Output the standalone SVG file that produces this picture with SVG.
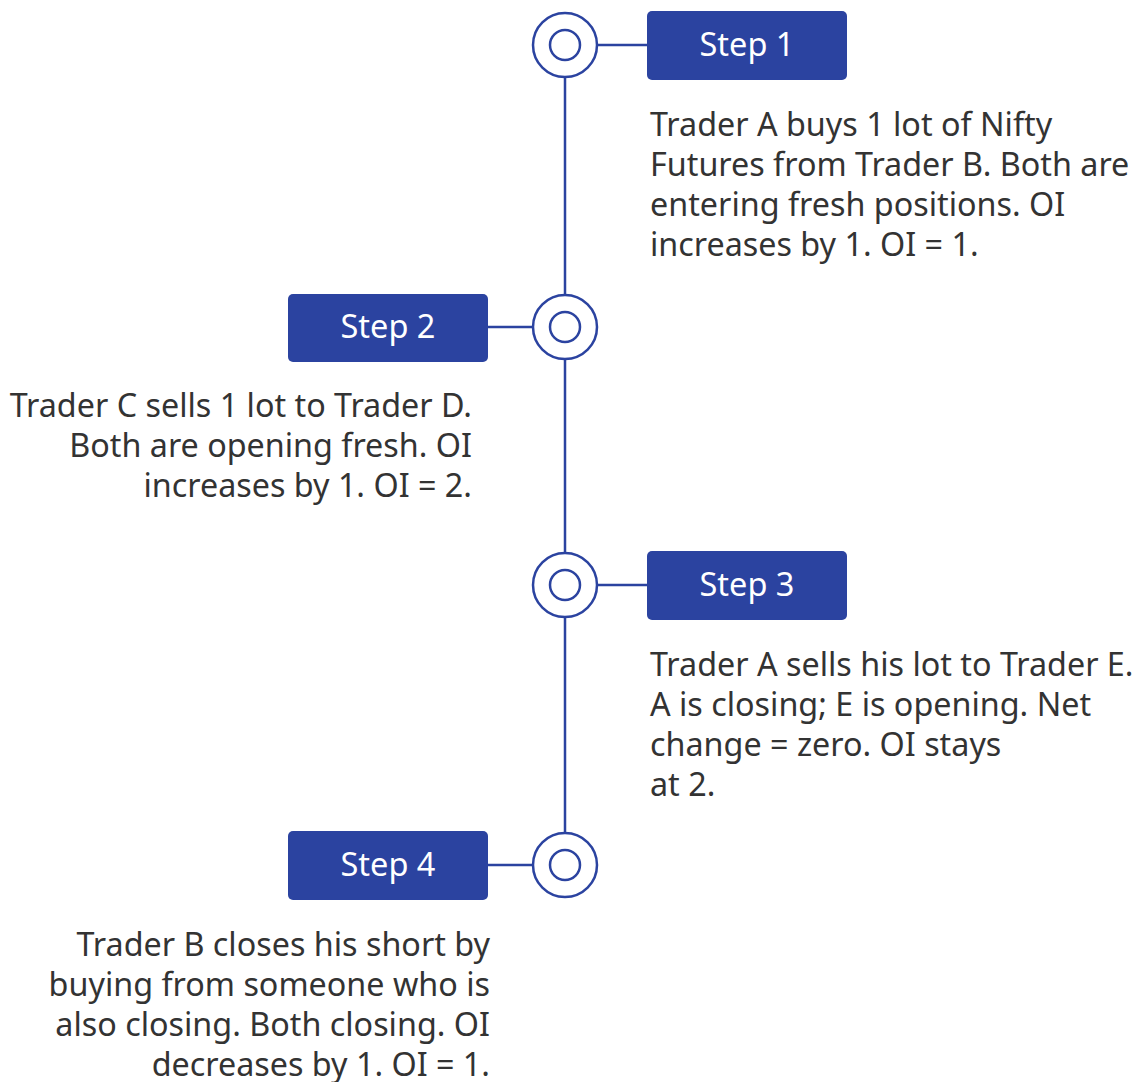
<svg xmlns="http://www.w3.org/2000/svg" width="1145" height="1082" viewBox="0 0 1145 1082">
<style>
.bg{fill:#ffffff}
.ln{stroke:#2B43A0;stroke-width:2.5;fill:none}
.ring{stroke:#2B43A0;stroke-width:2.5;fill:#ffffff}
.box{fill:#2B43A0}
.lbl{font-family:"Noto Sans","Liberation Sans",sans-serif;font-size:32.5px;fill:#ffffff;text-anchor:middle}
.txt{font-family:"Noto Sans","Liberation Sans",sans-serif;font-size:32.3px;fill:#333333}
.r{text-anchor:end}
</style>
<rect class="bg" x="0" y="0" width="1145" height="1082"/>
<g id="connectors">
<line class="ln" x1="565" y1="77" x2="565" y2="833"/>
<line class="ln" x1="597" y1="45" x2="647" y2="45"/>
<line class="ln" x1="488" y1="327" x2="533" y2="327"/>
<line class="ln" x1="597" y1="585" x2="647" y2="585"/>
<line class="ln" x1="488" y1="865" x2="533" y2="865"/>
</g>
<g id="node1">
<circle class="ring" cx="565" cy="45" r="32"/>
<circle class="ring" cx="565" cy="45" r="15"/>
<rect class="box" x="647" y="11" width="200" height="69" rx="5"/>
<text class="lbl" x="747" y="56">Step 1</text>
<text class="txt" x="650"><tspan x="650" y="136">Trader A buys 1 lot of Nifty</tspan><tspan x="650" y="176">Futures from Trader B. Both are</tspan><tspan x="650" y="216">entering fresh positions. OI</tspan><tspan x="650" y="256">increases by 1. OI = 1.</tspan></text>
</g>
<g id="node2">
<circle class="ring" cx="565" cy="327" r="32"/>
<circle class="ring" cx="565" cy="327" r="15"/>
<rect class="box" x="288" y="294" width="200" height="68" rx="5"/>
<text class="lbl" x="388" y="338">Step 2</text>
<text class="txt r"><tspan x="472" y="417">Trader C sells 1 lot to Trader D.</tspan><tspan x="472" y="457">Both are opening fresh. OI</tspan><tspan x="472" y="497">increases by 1. OI = 2.</tspan></text>
</g>
<g id="node3">
<circle class="ring" cx="565" cy="585" r="32"/>
<circle class="ring" cx="565" cy="585" r="15"/>
<rect class="box" x="647" y="551" width="200" height="69" rx="5"/>
<text class="lbl" x="747" y="596">Step 3</text>
<text class="txt"><tspan x="650" y="676">Trader A sells his lot to Trader E.</tspan><tspan x="650" y="716">A is closing; E is opening. Net</tspan><tspan x="650" y="756">change = zero. OI stays</tspan><tspan x="650" y="796">at 2.</tspan></text>
</g>
<g id="node4">
<circle class="ring" cx="565" cy="865" r="32"/>
<circle class="ring" cx="565" cy="865" r="15"/>
<rect class="box" x="288" y="831" width="200" height="69" rx="5"/>
<text class="lbl" x="388" y="876">Step 4</text>
<text class="txt r"><tspan x="490" y="956">Trader B closes his short by</tspan><tspan x="490" y="996">buying from someone who is</tspan><tspan x="490" y="1036">also closing. Both closing. OI</tspan><tspan x="490" y="1076">decreases by 1. OI = 1.</tspan></text>
</g>
</svg>
